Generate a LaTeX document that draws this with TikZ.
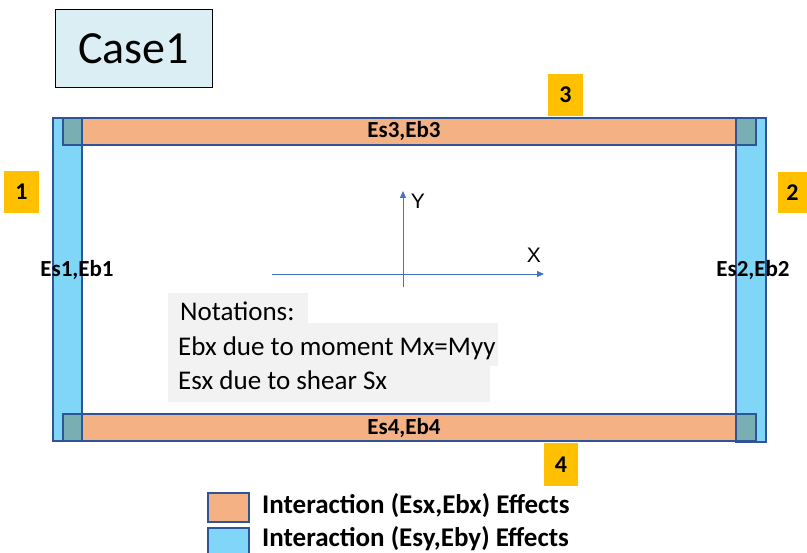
\documentclass[tikz,border=0pt]{standalone}
\usepackage{fontspec}
\setmainfont{Carlito}
\newfontfamily\axisfont{Liberation Sans}
\usetikzlibrary{arrows.meta}
\definecolor{beamorange}{HTML}{F4B183}
\definecolor{colblue}{HTML}{7FD6F7}
\definecolor{overlapteal}{HTML}{79AEB3}
\definecolor{edgeblue}{HTML}{2F5597}
\definecolor{axisblue}{HTML}{4472C4}
\definecolor{tagyellow}{HTML}{FFC000}
\definecolor{casefill}{HTML}{DAEEF3}
\definecolor{notegray}{HTML}{F2F2F2}
\tikzset{
  colbar/.style={fill=colblue, draw=edgeblue, line width=1.2pt},
  beambar/.style={fill=beamorange, draw=edgeblue, line width=1.2pt},
  joint/.style={fill=overlapteal, draw=edgeblue, line width=1.2pt},
  tag/.style={fill=tagyellow, inner sep=0pt, font=\bfseries\fontsize{24}{26}\selectfont},
  barlabel/.style={font=\bfseries\fontsize{23}{25}\selectfont, inner sep=0pt},
  notetext/.style={font=\fontsize{27}{29}\selectfont, anchor=base west, inner sep=0pt},
  axis/.style={draw=axisblue, line width=0.9pt, -{Triangle[length=7pt,width=6pt]}},
  axislabel/.style={font=\axisfont\fontsize{21}{23}\selectfont, inner sep=0pt},
  legendtext/.style={font=\bfseries\fontsize{27}{29}\selectfont, anchor=west, inner sep=0pt}
}
\begin{document}
\begin{tikzpicture}[x=1pt,y=-1pt]
\useasboundingbox (0,0) rectangle (807,553);

% title box
\node[draw=black, line width=1pt, fill=casefill, minimum width=157pt, minimum height=78pt,
      font=\fontsize{46}{50}\selectfont] (case) at (133.5,49) {Case1};

% columns and beams of the frame
\draw[colbar] (53,118) rectangle (82,441);
\draw[colbar] (736,118) rectangle (766,442);
\draw[beambar] (63,118) rectangle (756,145);
\draw[beambar] (63,414) rectangle (756,441);
% joints where beams meet columns
\draw[joint] (63,118) rectangle (82,145);
\draw[joint] (736,118) rectangle (756,145);
\draw[joint] (63,414) rectangle (82,441);
\draw[joint] (736,414) rectangle (756,441);

% member labels
\node[barlabel] (l3) at (404,131) {Es3,Eb3};
\node[barlabel] (l4) at (404,428) {Es4,Eb4};
\node[barlabel] (l1) at (77,270) {Es1,Eb1};
\node[barlabel] (l2) at (753,270) {Es2,Eb2};

% member numbers
\node[tag, minimum width=35pt, minimum height=42pt] (t1) at (21.5,192) {1};
\node[tag, minimum width=29pt, minimum height=41pt] (t2) at (792.5,192.5) {2};
\node[tag, minimum width=35pt, minimum height=42pt] (t3) at (565.5,95) {3};
\node[tag, minimum width=34pt, minimum height=43pt] (t4) at (561,464.5) {4};

% coordinate axes
\coordinate (xs) at (272,274);
\coordinate (xe) at (544,274);
\coordinate (ys) at (403,287);
\coordinate (ye) at (403,191);
\draw[axis] (xs) -- (xe);
\draw[axis] (ys) -- (ye);
\node[axislabel] (ylab) at (418,201) {Y};
\node[axislabel] (xlab) at (534,255) {X};

% notation panel
\fill[notegray] (168,293) rectangle (308,323);
\fill[notegray] (168,323) rectangle (498,366);
\fill[notegray] (168,366) rectangle (490,402);
\node[notetext] (n1) at (180,321) {Notations:};
\node[notetext] (n2) at (178,356) {Ebx due to moment Mx=Myy};
\node[notetext] (n3) at (178,390) {Esx due to shear Sx};

% legend
\draw[fill=beamorange, draw=edgeblue, line width=1.2pt] (208,493) rectangle (249,522);
\draw[fill=colblue, draw=edgeblue, line width=1.2pt] (208,528) rectangle (249,560);
\node[legendtext] (g1) at (262,506) {Interaction (Esx,Ebx) Effects};
\node[legendtext] (g2) at (262,539) {Interaction (Esy,Eby) Effects};
\end{tikzpicture}
\end{document}
